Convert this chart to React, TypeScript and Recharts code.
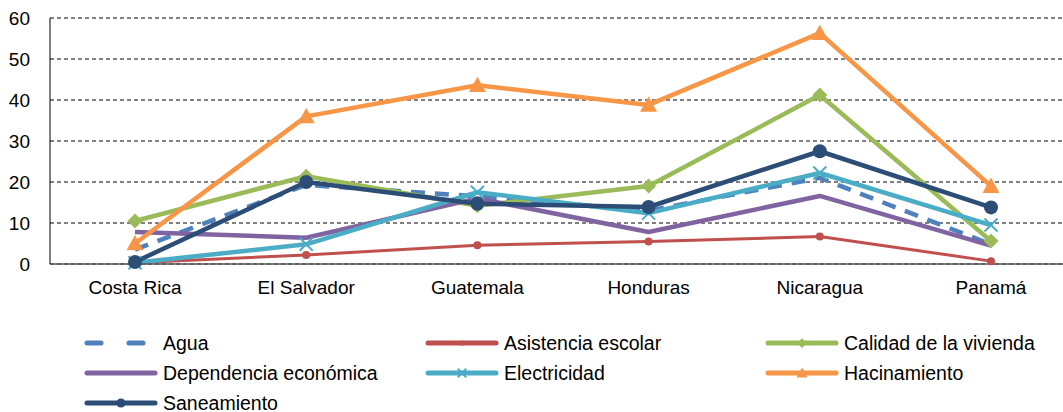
import React from "react";
import { LineChart, Line, XAxis, YAxis, CartesianGrid } from "recharts";

const categories = ["Costa Rica", "El Salvador", "Guatemala", "Honduras", "Nicaragua", "Panamá"];
const agua = [3.5, 19.3, 16.5, 13, 21, 4.8];
const asistencia = [0.3, 2.2, 4.6, 5.5, 6.7, 0.7];
const calidad = [10.5, 21.4, 14.2, 19, 41.2, 5.6];
const dependencia = [7.8, 6.4, 16, 7.8, 16.6, 4.5];
const electricidad = [0.3, 4.8, 17.5, 12.4, 22.2, 9.5];
const hacinamiento = [5, 36, 43.6, 38.8, 56.3, 19];
const saneamiento = [0.5, 20, 14.7, 13.9, 27.5, 13.8];
const yTicks = [0, 10, 20, 30, 40, 50, 60];

const data = categories.map((c, i) => ({
  name: c,
  agua: agua[i],
  asistencia: asistencia[i],
  calidad: calidad[i],
  dependencia: dependencia[i],
  electricidad: electricidad[i],
  hacinamiento: hacinamiento[i],
  saneamiento: saneamiento[i],
}));

type Marker = "none" | "circleS" | "diamond" | "x" | "triangle" | "circleL";

const series: { key: string; label: string; color: string; width: number; dash?: string; marker: Marker }[] = [
  { key: "agua", label: "Agua", color: "#4F81BD", width: 4.5, dash: "14 10", marker: "none" },
  { key: "asistencia", label: "Asistencia escolar", color: "#C0504D", width: 3, marker: "circleS" },
  { key: "calidad", label: "Calidad de la vivienda", color: "#9BBB59", width: 4.5, marker: "diamond" },
  { key: "dependencia", label: "Dependencia económica", color: "#8064A2", width: 4.5, marker: "none" },
  { key: "electricidad", label: "Electricidad", color: "#4BACC6", width: 4.5, marker: "x" },
  { key: "hacinamiento", label: "Hacinamiento", color: "#F79646", width: 4.5, marker: "triangle" },
  { key: "saneamiento", label: "Saneamiento", color: "#2C4D75", width: 4.5, marker: "circleL" },
];

function renderMarker(m: Marker, cx: number, cy: number, color: string, s: number, key?: string) {
  switch (m) {
    case "circleS":
      return <circle key={key} cx={cx} cy={cy} r={4 * s} fill={color} />;
    case "circleL":
      return <circle key={key} cx={cx} cy={cy} r={7 * s} fill={color} />;
    case "diamond": {
      const d = 7.5 * s;
      return <path key={key} d={`M${cx},${cy - d}L${cx + d},${cy}L${cx},${cy + d}L${cx - d},${cy}Z`} fill={color} />;
    }
    case "triangle": {
      const d = 8.5 * s;
      return <path key={key} d={`M${cx},${cy - d}L${cx + d},${cy + d * 0.8}L${cx - d},${cy + d * 0.8}Z`} fill={color} />;
    }
    case "x": {
      const d = 6.5 * s;
      return (
        <path key={key} d={`M${cx - d},${cy - d}L${cx + d},${cy + d}M${cx + d},${cy - d}L${cx - d},${cy + d}`} stroke={color} strokeWidth={2} fill="none" />
      );
    }
    default:
      return <g key={key} />;
  }
}

const FONT = "'Liberation Sans', Arial, sans-serif";

function LegendItem({ s }: { s: (typeof series)[number] }) {
  return (
    <div style={{ display: "flex", alignItems: "center", height: 30 }}>
      <svg width={74} height={14} style={{ marginRight: 5 }}>
        {s.dash ? (
          <line x1={3} y1={7} x2={71} y2={7} stroke={s.color} strokeWidth={5} strokeDasharray="14 28" strokeLinecap="round" />
        ) : (
          <line x1={3} y1={7} x2={71} y2={7} stroke={s.color} strokeWidth={5} strokeLinecap="round" />
        )}
        {renderMarker(s.marker, 37, 7, s.color, 0.65)}
      </svg>
      <span style={{ fontSize: 19.5, color: "#000", fontFamily: FONT, whiteSpace: "nowrap" }}>{s.label}</span>
    </div>
  );
}

export default function App() {
  return (
    <div style={{ position: "absolute", left: 0, top: 0, width: 1090, height: 412, background: "#fff", fontFamily: FONT }}>
      <LineChart width={1090} height={412} data={data} margin={{ top: 18, right: 14, left: 0, bottom: 118 }}>
        <CartesianGrid vertical={false} stroke="#000" strokeDasharray="4 3" strokeWidth={1} />
        <XAxis
          dataKey="name"
          height={30}
          padding={{ left: 85, right: 85 }}
          axisLine={{ stroke: "#555", strokeWidth: 1.5 }}
          tickLine={false}
          tick={{ fill: "#000", fontSize: 19, fontFamily: FONT }}
          tickMargin={11}
        />
        <YAxis
          width={50}
          domain={[0, 60]}
          ticks={yTicks}
          axisLine={{ stroke: "#000", strokeWidth: 1 }}
          tickLine={false}
          tickMargin={14}
          tick={{ fill: "#000", fontSize: 19, fontFamily: FONT }}
        />
        {series.map((s) => (
          <Line
            key={s.key}
            dataKey={s.key}
            stroke={s.color}
            strokeWidth={s.width}
            strokeDasharray={s.dash}
            isAnimationActive={false}
            strokeLinejoin="round"
            dot={(p: any) => renderMarker(s.marker, p.cx, p.cy, s.color, 1, `${s.key}-${p.index}`)}
            activeDot={false}
          />
        ))}
      </LineChart>
      <div style={{ position: "absolute", left: 84, top: 328, display: "grid", gridTemplateColumns: "341px 340px 300px" }}>
        {series.map((s) => (
          <LegendItem key={s.key} s={s} />
        ))}
      </div>
    </div>
  );
}
